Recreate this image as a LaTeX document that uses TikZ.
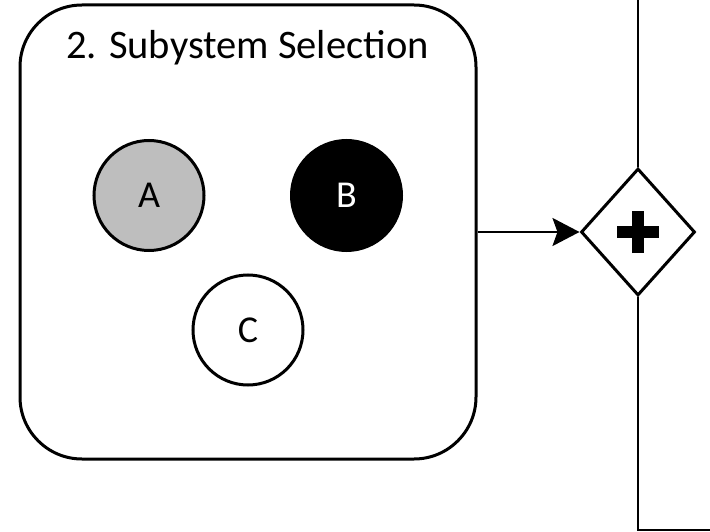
\documentclass[tikz,border=0pt]{standalone}
\usepackage{fontspec}
\setmainfont{Carlito}
\usetikzlibrary{shapes.geometric,arrows.meta}
\definecolor{selgray}{RGB}{190,190,190}
\begin{document}
\begin{tikzpicture}[x=1pt,y=-1pt,
  stroke/.style={line width=3pt},
  frame/.style={stroke,draw,rounded corners=62pt,minimum width=456pt,minimum height=454pt,inner sep=0pt},
  sub/.style={stroke,draw,circle,minimum size=110pt,inner sep=0pt,font=\fontsize{38}{42}\selectfont},
  gate/.style={stroke,draw,fill=white,diamond,minimum width=114pt,minimum height=127pt,inner sep=0pt},
  flow/.style={line width=2.6pt},
  plusbar/.style={line width=12pt},
]
\useasboundingbox (0,0) rectangle (710,532);

% subsystem group
\node[frame] (frame) at (248,232) {};
\node[anchor=base,font=\fontsize{40.5}{46}\selectfont] (title) at (247.5,59) {2. Subystem Selection};

\node[sub,fill=selgray] (a) at (149,195.5) {A};
\node[sub,fill=black,text=white] (b) at (346.5,195.5) {B};
\node[sub,fill=white] (c) at (248,330) {C};

% parallel gateway
\node[gate] (gate) at (638,232) {};
\draw[plusbar] ([xshift=-21pt]gate.center) -- ([xshift=21pt]gate.center);
\draw[plusbar] ([yshift=-21pt]gate.center) -- ([yshift=21pt]gate.center);

% sequence flows
\coordinate (top) at (638,0);
\coordinate (turn) at (638,530);
\coordinate (end) at (710,530);
\draw[flow,-{Stealth[length=27pt,width=28pt,inset=5pt]}] (frame.east) -- (gate.west);
\draw[flow] (top) -- (gate.north);
\draw[flow] (gate.south) -- (turn) -- (end);
\end{tikzpicture}
\end{document}
